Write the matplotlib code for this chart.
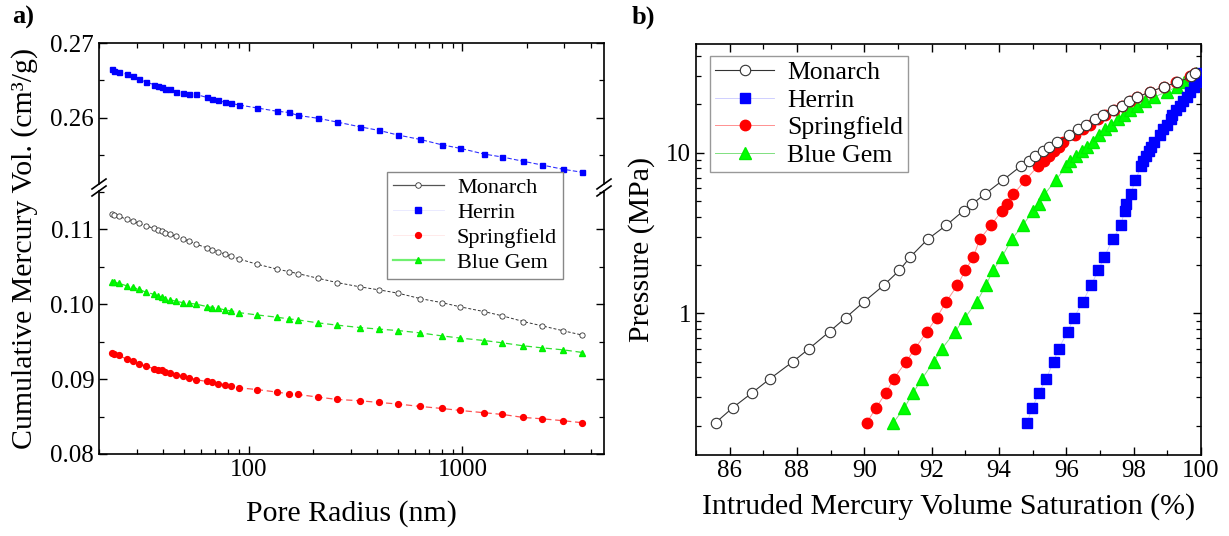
import matplotlib
matplotlib.use("Agg")
import matplotlib.pyplot as plt
from matplotlib.lines import Line2D
from matplotlib.ticker import FixedLocator, FuncFormatter, LogLocator, NullFormatter, MultipleLocator

plt.rcParams["font.family"] = ["Liberation Serif", "DejaVu Serif"]

# ---------------------------------------------------------------------------
# a) cumulative intruded volume vs pore radius
# ---------------------------------------------------------------------------
radius_nm = [23.0, 23.6, 24.7, 27.0, 28.7, 30.6, 33.2, 36.0, 37.6, 39.4,
             40.8, 43.1, 45.8, 49.2, 52.7, 57.0, 64.0, 67.7, 71.7, 77.3,
             83.1, 89.9, 109.1, 135.3, 154.0, 170.4, 210.5, 260.2, 332.2, 407.8,
             500.2, 634.1, 800.4, 978.6, 1263, 1539, 1929, 2354, 2968, 3641]

herrin_vol = [0.26649, 0.26632, 0.26613, 0.26583, 0.26556, 0.26516, 0.26480, 0.26445, 0.26419, 0.26409,
              0.26392, 0.26379, 0.26339, 0.26333, 0.26320, 0.26312, 0.26272, 0.26249, 0.26232, 0.26209,
              0.26192, 0.26173, 0.26133, 0.26089, 0.26072, 0.26032, 0.25995, 0.25943, 0.25880, 0.25832,
              0.25770, 0.25712, 0.25640, 0.25592, 0.25516, 0.25476, 0.25419, 0.25370, 0.25312, 0.25272]

monarch_vol = [0.11200, 0.11189, 0.11172, 0.11135, 0.11110, 0.11082, 0.11048, 0.11012, 0.10993, 0.10972,
               0.10956, 0.10932, 0.10905, 0.10873, 0.10843, 0.10800, 0.10752, 0.10728, 0.10703, 0.10670,
               0.10640, 0.10605, 0.10535, 0.10470, 0.10435, 0.10408, 0.10347, 0.10288, 0.10231, 0.10191,
               0.10147, 0.10075, 0.10021, 0.09964, 0.09901, 0.09844, 0.09768, 0.09711, 0.09644, 0.09587]

springfield_vol = [0.09347, 0.09333, 0.09315, 0.09267, 0.09235, 0.09204, 0.09173, 0.09141, 0.09128, 0.09115,
                   0.09101, 0.09084, 0.09057, 0.09040, 0.09021, 0.08991, 0.08968, 0.08955, 0.08941, 0.08924,
                   0.08907, 0.08884, 0.08861, 0.08827, 0.08804, 0.08795, 0.08760, 0.08728, 0.08711, 0.08688,
                   0.08667, 0.08635, 0.08608, 0.08581, 0.08551, 0.08528, 0.08488, 0.08470, 0.08444, 0.08417]

bluegem_vol = [0.10301, 0.10293, 0.10280, 0.10244, 0.10227, 0.10200, 0.10160, 0.10133, 0.10111, 0.10093,
               0.10075, 0.10057, 0.10040, 0.10021, 0.10013, 0.10000, 0.09968, 0.09955, 0.09947, 0.09924,
               0.09911, 0.09888, 0.09857, 0.09827, 0.09804, 0.09790, 0.09751, 0.09720, 0.09688, 0.09667,
               0.09648, 0.09617, 0.09577, 0.09547, 0.09515, 0.09484, 0.09444, 0.09417, 0.09390, 0.09355]

# ---------------------------------------------------------------------------
# b) capillary pressure vs intruded saturation
# ---------------------------------------------------------------------------
pressure_mpa = [0.208, 0.258, 0.32, 0.39, 0.50, 0.60, 0.77, 0.94, 1.18, 1.49,
                1.85, 2.25, 2.89, 3.53, 4.36, 4.80, 5.51, 6.76, 8.26, 8.88,
                9.53, 10.25, 10.9, 11.6, 12.9, 14.1, 15.0, 16.2, 17.1, 18.5,
                19.5, 21.1, 22.2, 24.0, 25.8, 27.4, 29.9, 31.2]

monarch_sat = [85.58, 86.09, 86.67, 87.19, 87.88, 88.35, 88.97, 89.45, 89.99, 90.57,
               91.04, 91.37, 91.88, 92.43, 92.95, 93.21, 93.57, 94.12, 94.65, 94.88,
               95.08, 95.31, 95.50, 95.73, 96.08, 96.35, 96.59, 96.85, 97.09, 97.39,
               97.64, 97.87, 98.11, 98.49, 98.90, 99.29, 99.71, 99.83]

herrin_sat = [94.83, 94.99, 95.19, 95.40, 95.62, 95.77, 96.04, 96.23, 96.49, 96.73,
              96.95, 97.13, 97.38, 97.62, 97.73, 97.76, 97.91, 98.05, 98.23, 98.28,
              98.37, 98.46, 98.52, 98.60, 98.78, 98.86, 98.98, 99.10, 99.15, 99.27,
              99.38, 99.48, 99.59, 99.67, 99.79, 99.88, 99.96, 100.0]

springfield_sat = [90.07, 90.35, 90.64, 90.87, 91.24, 91.50, 91.86, 92.15, 92.43, 92.76,
                   93.00, 93.24, 93.43, 93.76, 94.09, 94.23, 94.43, 94.78, 95.16, 95.33,
                   95.48, 95.62, 95.77, 95.91, 96.26, 96.49, 96.69, 96.93, 97.16, 97.42,
                   97.65, 97.89, 98.10, 98.49, 98.90, 99.27, 99.67, 99.83]

bluegem_sat = [90.86, 91.19, 91.45, 91.71, 92.06, 92.30, 92.70, 92.99, 93.34, 93.61,
               93.82, 94.09, 94.38, 94.70, 95.02, 95.18, 95.35, 95.69, 96.00, 96.12,
               96.28, 96.46, 96.60, 96.78, 96.97, 97.16, 97.32, 97.53, 97.70, 97.90,
               98.11, 98.34, 98.60, 98.98, 99.29, 99.50, 99.71, 99.85]

names = ["Monarch", "Herrin", "Springfield", "Blue Gem"]

W, H = 1229, 536
fig = plt.figure(figsize=(W / 100, H / 100), dpi=100)


def px_box(x0, y0, x1, y1):
    # pixel box (top-left origin) -> figure fraction rect
    return [x0 / W, 1 - y1 / H, (x1 - x0) / W, (y1 - y0) / H]


def style_axes(ax):
    ax.tick_params(which="both", direction="in", top=True, right=True, labelsize=18)
    ax.tick_params(which="major", length=6, width=1.0)
    ax.tick_params(which="minor", length=3.5, width=0.9)
    for s in ax.spines.values():
        s.set_linewidth(1.2)


# ---- panel a: broken y axis made of two stacked axes
LX0, LX1 = 99, 604
ax_top = fig.add_axes(px_box(LX0, 43, LX1, 184))
ax_bot = fig.add_axes(px_box(LX0, 191, LX1, 454))

ax_top.plot(radius_nm, herrin_vol, ls=(0, (4, 2)), lw=0.8, color="#3030ff",
            marker="s", ms=3.6, mfc="#0000ff", mec="#0000ff")
ax_bot.plot(radius_nm, monarch_vol, ls=(0, (3, 2)), lw=0.7, color="#333333",
            marker="o", ms=3.8, mfc="white", mec="#333333", mew=0.6)
ax_bot.plot(radius_nm, bluegem_vol, ls=(0, (5, 3)), lw=0.9, color="#30e030",
            marker="^", ms=4.5, mfc="#00ff00", mec="#00ee00")
ax_bot.plot(radius_nm, springfield_vol, ls=(0, (5, 3)), lw=0.9, color="#ff5050",
            marker="o", ms=4.2, mfc="#ff0000", mec="#ff0000")

for ax in (ax_top, ax_bot):
    ax.set_xscale("log")
    ax.set_xlim(20, 4590)
    style_axes(ax)
    ax.xaxis.set_major_locator(FixedLocator([100, 1000]))
    ax.xaxis.set_minor_locator(LogLocator(base=10, subs=range(2, 10)))
    ax.xaxis.set_minor_formatter(NullFormatter())
    ax.yaxis.set_major_formatter(FuncFormatter(lambda v, p: f"{v:.2f}"))
    ax.yaxis.set_minor_locator(MultipleLocator(0.005))

ax_top.set_ylim(0.25116, 0.27)
ax_top.yaxis.set_major_locator(FixedLocator([0.26, 0.27]))
ax_top.spines["bottom"].set_visible(False)
ax_top.tick_params(which="both", bottom=False, labelbottom=False)

ax_bot.set_ylim(0.08, 0.11511)
ax_bot.yaxis.set_major_locator(FixedLocator([0.08, 0.09, 0.10, 0.11]))
ax_bot.spines["top"].set_visible(False)
ax_bot.tick_params(which="both", top=False)
ax_bot.xaxis.set_major_formatter(FuncFormatter(lambda v, p: f"{v:.0f}"))
ax_bot.set_xlabel("Pore Radius (nm)", fontsize=21.5, labelpad=14)

fig.text(25 / W, 1 - 248 / H, "Cumulative Mercury Vol. (cm³/g)", rotation=90,
         ha="center", va="center", fontsize=21.5)

# break marks
for xs in (LX0, LX1):
    for yb in (184, 191):
        fig.add_artist(Line2D([(xs - 7) / W, (xs + 7) / W],
                              [1 - (yb + 5) / H, 1 - (yb - 5) / H],
                              transform=fig.transFigure, color="black", lw=1.2))

legend_a = [
    Line2D([], [], color="#555555", lw=0.9, marker="o", ms=4, mfc="white", mec="#333333", mew=0.6),
    Line2D([], [], color="#e6e6ff", lw=0.6, marker="s", ms=4, mfc="#0000ff", mec="#0000ff"),
    Line2D([], [], color="#ffe6e6", lw=0.6, marker="o", ms=4.2, mfc="#ff0000", mec="#ff0000"),
    Line2D([], [], color="#70f070", lw=1.6, marker="^", ms=4.5, mfc="#00ff00", mec="#00ee00"),
]
fig.legend(legend_a, names, loc="upper left", bbox_to_anchor=(387 / W, 1 - 172 / H),
           borderaxespad=0, fontsize=16, frameon=True, fancybox=False,
           edgecolor="#888888", framealpha=1,
           borderpad=0.25, labelspacing=0.2, handlelength=2.3, handletextpad=0.6)

fig.text(12 / W, 1 - 17 / H, "a)", fontsize=19, fontweight="bold", va="center")

# ---- panel b: pressure vs saturation
axb = fig.add_axes(px_box(696, 43.7, 1201, 455))
h_bg, = axb.plot(bluegem_sat, pressure_mpa, "-", lw=0.7, color="#80e080",
                 marker="^", ms=8, mfc="#00ff00", mec="#00ee00", zorder=2)
h_sp, = axb.plot(springfield_sat, pressure_mpa, "-", lw=0.7, color="#ff9090",
                 marker="o", ms=7.5, mfc="#ff0000", mec="#ff0000", zorder=3)
h_he, = axb.plot(herrin_sat, pressure_mpa, "-", lw=0.6, color="#c8c8ff",
                 marker="s", ms=7, mfc="#0000ff", mec="#0000ff", zorder=3)
h_mo, = axb.plot(monarch_sat, pressure_mpa, "-", lw=0.8, color="#333333",
                 marker="o", ms=7.5, mfc="white", mec="#333333", mew=0.8, zorder=4)

axb.set_yscale("log")
axb.set_xlim(85, 100)
axb.set_ylim(0.131, 47.8)
style_axes(axb)
axb.xaxis.set_major_locator(MultipleLocator(2))
axb.xaxis.set_minor_locator(MultipleLocator(1))
axb.yaxis.set_major_locator(FixedLocator([1, 10]))
axb.yaxis.set_major_formatter(FuncFormatter(lambda v, p: f"{v:g}"))
axb.yaxis.set_minor_locator(LogLocator(base=10, subs=range(2, 10)))
axb.yaxis.set_minor_formatter(NullFormatter())
axb.set_xlabel("Intruded Mercury Volume Saturation (%)", fontsize=21.5, labelpad=8)
axb.set_ylabel("Pressure (MPa)", fontsize=21.5, labelpad=8)

axb.legend([h_mo, h_he, h_sp, h_bg], names, loc="upper left",
           bbox_to_anchor=(0.028, 0.97), borderaxespad=0, fontsize=18.5,
           frameon=True, fancybox=False, edgecolor="#999999", framealpha=1,
           borderpad=0.2, labelspacing=0.18, handlelength=2.3, handletextpad=0.5)

fig.text(632 / W, 1 - 17 / H, "b)", fontsize=19, fontweight="bold", va="center")

fig.savefig("out.png", dpi=100)
